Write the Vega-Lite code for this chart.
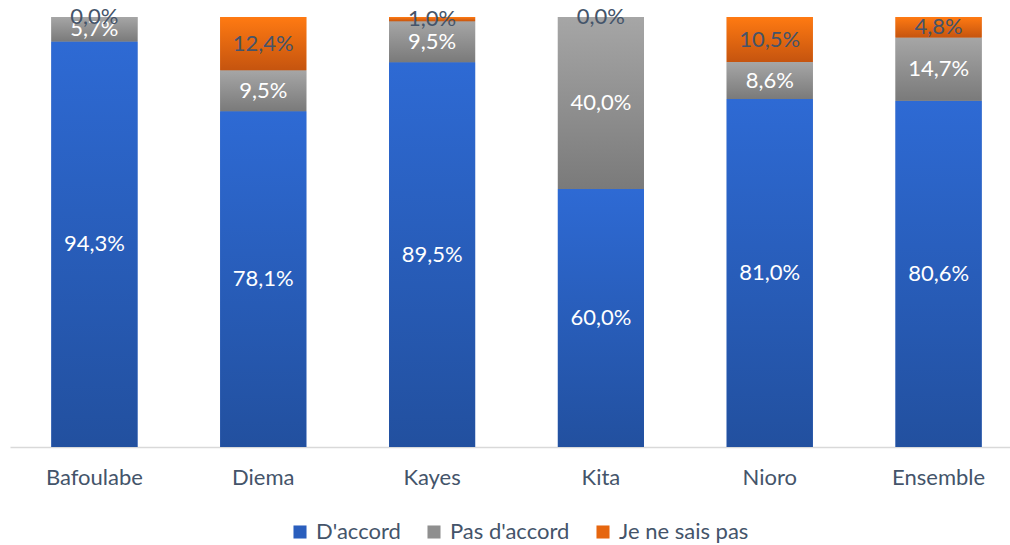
{
  "$schema": "https://vega.github.io/schema/vega-lite/v6.json",
  "width": 1000,
  "height": 430,
  "autosize": "none",
  "padding": {"left": 10, "top": 17, "right": 0, "bottom": 98},
  "background": "white",
  "config": {
    "view": {"stroke": null},
    "font": "Lato",
    "locale": {"number": {"decimal": ",", "thousands": " ", "grouping": [3], "currency": ["", " €"]}}
  },
  "data": {
    "values": [
      {"zone": "Bafoulabe", "serie": "D'accord", "rang": 1, "valeur": 0.943},
      {"zone": "Bafoulabe", "serie": "Pas d'accord", "rang": 2, "valeur": 0.057},
      {"zone": "Bafoulabe", "serie": "Je ne sais pas", "rang": 3, "valeur": 0.0},
      {"zone": "Diema", "serie": "D'accord", "rang": 1, "valeur": 0.781},
      {"zone": "Diema", "serie": "Pas d'accord", "rang": 2, "valeur": 0.095},
      {"zone": "Diema", "serie": "Je ne sais pas", "rang": 3, "valeur": 0.124},
      {"zone": "Kayes", "serie": "D'accord", "rang": 1, "valeur": 0.895},
      {"zone": "Kayes", "serie": "Pas d'accord", "rang": 2, "valeur": 0.095},
      {"zone": "Kayes", "serie": "Je ne sais pas", "rang": 3, "valeur": 0.010},
      {"zone": "Kita", "serie": "D'accord", "rang": 1, "valeur": 0.600},
      {"zone": "Kita", "serie": "Pas d'accord", "rang": 2, "valeur": 0.400},
      {"zone": "Kita", "serie": "Je ne sais pas", "rang": 3, "valeur": 0.0},
      {"zone": "Nioro", "serie": "D'accord", "rang": 1, "valeur": 0.810},
      {"zone": "Nioro", "serie": "Pas d'accord", "rang": 2, "valeur": 0.086},
      {"zone": "Nioro", "serie": "Je ne sais pas", "rang": 3, "valeur": 0.105},
      {"zone": "Ensemble", "serie": "D'accord", "rang": 1, "valeur": 0.806},
      {"zone": "Ensemble", "serie": "Pas d'accord", "rang": 2, "valeur": 0.147},
      {"zone": "Ensemble", "serie": "Je ne sais pas", "rang": 3, "valeur": 0.048}
    ]
  },
  "transform": [
    {"stack": "valeur", "groupby": ["zone"], "sort": [{"field": "rang", "order": "ascending"}], "offset": "normalize", "as": ["y0", "y1"]}
  ],
  "encoding": {
    "x": {
      "field": "zone",
      "type": "nominal",
      "sort": ["Bafoulabe", "Diema", "Kayes", "Kita", "Nioro", "Ensemble"],
      "scale": {"paddingInner": 0.49, "paddingOuter": 0.245, "range": [0, 1013]},
      "axis": {
        "title": null,
        "labelAngle": 0,
        "ticks": false,
        "domainColor": "#D9D9D9",
        "domainWidth": 1.5,
        "labelFontSize": 22,
        "labelColor": "#44546A",
        "labelPadding": 20,
        "labelBaseline": "top"
      }
    }
  },
  "layer": [
    {
      "mark": {"type": "bar"},
      "encoding": {
        "y": {"field": "y1", "type": "quantitative", "scale": {"domain": [0, 1]}, "axis": null},
        "y2": {"field": "y0"},
        "color": {
          "field": "serie",
          "type": "nominal",
          "scale": {
            "domain": ["D'accord", "Pas d'accord", "Je ne sais pas"],
            "range": ["#2A5EBD", "#8F8F8F", "#E6660F"]
          },
          "legend": {
            "title": null,
            "orient": "none",
            "direction": "horizontal",
            "legendX": 279,
            "legendY": 504,
            "symbolType": "square",
            "symbolSize": 170,
            "symbolStrokeWidth": 0,
            "labelFontSize": 22,
            "labelColor": "#44546A",
            "labelOffset": 5,
            "columnPadding": 22
          }
        }
      }
    },
    {
      "transform": [{"filter": "datum.serie === \"D'accord\""}],
      "mark": {"type": "bar", "fill": {"gradient": "linear", "x1": 0, "y1": 0, "x2": 0, "y2": 1, "stops": [{"offset": 0, "color": "#2E6AD4"}, {"offset": 1, "color": "#22509F"}]}},
      "encoding": {
        "y": {"field": "y1", "type": "quantitative"},
        "y2": {"field": "y0"}
      }
    },
    {
      "transform": [{"filter": "datum.serie === \"Pas d'accord\""}],
      "mark": {"type": "bar", "fill": {"gradient": "linear", "x1": 0, "y1": 0, "x2": 0, "y2": 1, "stops": [{"offset": 0, "color": "#A6A6A6"}, {"offset": 1, "color": "#7A7A7A"}]}},
      "encoding": {
        "y": {"field": "y1", "type": "quantitative"},
        "y2": {"field": "y0"}
      }
    },
    {
      "transform": [{"filter": "datum.serie === 'Je ne sais pas'"}],
      "mark": {"type": "bar", "fill": {"gradient": "linear", "x1": 0, "y1": 0, "x2": 0, "y2": 1, "stops": [{"offset": 0, "color": "#FF7A12"}, {"offset": 1, "color": "#C5540F"}]}},
      "encoding": {
        "y": {"field": "y1", "type": "quantitative"},
        "y2": {"field": "y0"}
      }
    },
    {
      "mark": {"type": "text", "fontSize": 22, "baseline": "middle"},
      "encoding": {
        "y": {"field": "valeur", "type": "quantitative", "stack": "normalize", "bandPosition": 0.5},
        "detail": {"field": "serie"},
        "order": {"field": "rang", "type": "quantitative"},
        "text": {"field": "valeur", "type": "quantitative", "format": ".1%"},
        "color": {
          "condition": {"test": "datum.serie === 'Je ne sais pas'", "value": "#44546A"},
          "value": "white"
        }
      }
    }
  ]
}
